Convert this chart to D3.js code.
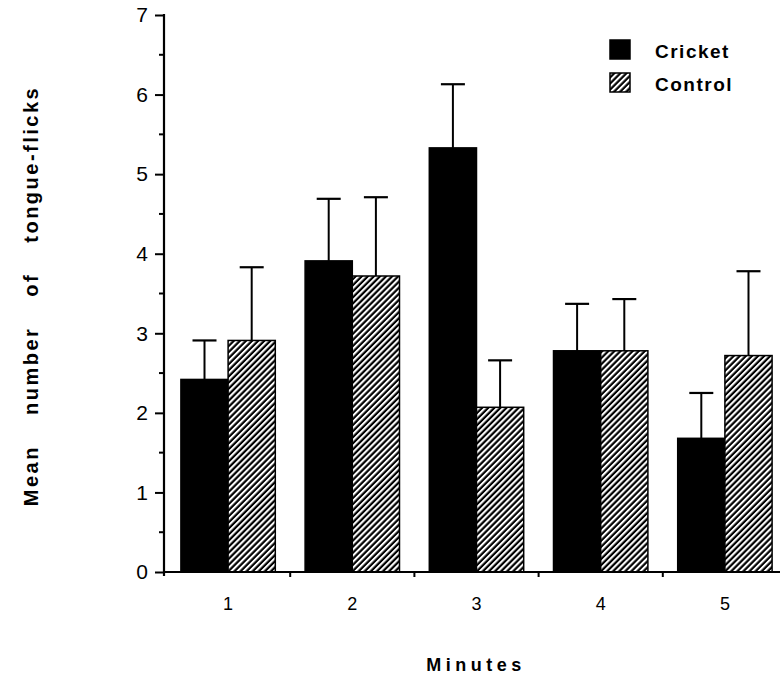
<!DOCTYPE html>
<html>
<head>
<meta charset="utf-8">
<script src="https://cdn.jsdelivr.net/npm/d3@7"></script>
<style>
  body { margin: 0; background: #fff; }
  text { font-family: "Liberation Sans", Arial, sans-serif; fill: #000; }
</style>
</head>
<body>
<svg id="frame" width="780" height="680"></svg>
<script>
// data
const minutes = ["1", "2", "3", "4", "5"];
const series = ["Cricket", "Control"];
const cricketMean = [2.42, 3.91, 5.33, 2.78, 1.68];
const cricketErr  = [0.49, 0.78, 0.80, 0.59, 0.57];
const controlMean = [2.91, 3.72, 2.07, 2.78, 2.72];
const controlErr  = [0.92, 0.99, 0.59, 0.65, 1.06];
const yTicks = [0, 1, 2, 3, 4, 5, 6, 7];
const yMinor = [0.5, 1.5, 2.5, 3.5, 4.5, 5.5, 6.5];

const svg = d3.select("#frame");

// hatch pattern for the control bars
const defs = svg.append("defs");
const pat = defs.append("pattern")
  .attr("id", "hatch")
  .attr("patternUnits", "userSpaceOnUse")
  .attr("width", 4.3).attr("height", 10)
  .attr("patternTransform", "rotate(45)");
pat.append("rect").attr("width", 4.3).attr("height", 10).attr("fill", "#000");
pat.append("rect").attr("x", 0).attr("width", 2.1).attr("height", 10).attr("fill", "#fff");

const x0 = 166, xEnd = 780, yBase = 572, yTop = 15;

const x = d3.scaleBand()
  .domain(minutes)
  .range([x0, 787])
  .paddingInner(0.24)
  .paddingOuter(0.12);

const x1 = d3.scaleBand()
  .domain(series)
  .range([0, x.bandwidth()]);

const y = d3.scaleLinear().domain([0, 7]).range([yBase, yTop]);

const rows = minutes.map((m, i) => ({
  minute: m,
  vals: [
    { key: "Cricket", mean: cricketMean[i], err: cricketErr[i] },
    { key: "Control", mean: controlMean[i], err: controlErr[i] }
  ]
}));

// bars
const groups = svg.append("g").selectAll("g")
  .data(rows)
  .join("g")
  .attr("transform", d => `translate(${x(d.minute)},0)`);

groups.selectAll("rect")
  .data(d => d.vals)
  .join("rect")
  .attr("x", d => x1(d.key))
  .attr("y", d => y(d.mean))
  .attr("width", x1.bandwidth())
  .attr("height", d => yBase - y(d.mean))
  .attr("fill", d => d.key === "Cricket" ? "#000" : "url(#hatch)")
  .attr("stroke", "#000")
  .attr("stroke-width", 1.5);

// error bars (upper only)
const eb = groups.selectAll("g.err")
  .data(d => d.vals)
  .join("g").attr("class", "err");
eb.append("line")
  .attr("x1", d => x1(d.key) + x1.bandwidth() / 2)
  .attr("x2", d => x1(d.key) + x1.bandwidth() / 2)
  .attr("y1", d => y(d.mean))
  .attr("y2", d => y(d.mean + d.err))
  .attr("stroke", "#000").attr("stroke-width", 2);
eb.append("line")
  .attr("x1", d => x1(d.key) + x1.bandwidth() / 2 - 12)
  .attr("x2", d => x1(d.key) + x1.bandwidth() / 2 + 12)
  .attr("y1", d => y(d.mean + d.err))
  .attr("y2", d => y(d.mean + d.err))
  .attr("stroke", "#000").attr("stroke-width", 2.2);

// y axis
const yAxis = svg.append("g").attr("transform", `translate(${x0 - 2},0)`);
yAxis.call(d3.axisLeft(y).tickValues(yTicks).tickSize(9).tickPadding(7).tickFormat(d3.format("d")));
yAxis.select(".domain").remove();
yAxis.selectAll(".tick line").attr("stroke-width", 2);
yAxis.selectAll(".tick text").style("font-size", "21px");
yAxis.append("line")
  .attr("x1", 0).attr("x2", 0)
  .attr("y1", y(7) - 1).attr("y2", yBase + 4)
  .attr("stroke", "#000").attr("stroke-width", 2.2);
yAxis.selectAll("line.minor")
  .data(yMinor)
  .join("line").attr("class", "minor")
  .attr("x1", -5).attr("x2", 0)
  .attr("y1", d => y(d)).attr("y2", d => y(d))
  .attr("stroke", "#000").attr("stroke-width", 2);

// x axis
const xAxis = svg.append("g").attr("transform", `translate(0,${yBase})`);
xAxis.call(d3.axisBottom(x).tickSize(0).tickPadding(25));
xAxis.select(".domain").remove();
xAxis.selectAll(".tick text").style("font-size", "18px");
xAxis.append("line")
  .attr("x1", x0 - 3).attr("x2", xEnd)
  .attr("y1", 0).attr("y2", 0)
  .attr("stroke", "#000").attr("stroke-width", 2);
const seps = minutes.slice(1).map(m => x(m) - x.step() * x.paddingInner() / 2);
xAxis.selectAll("line.sep")
  .data(seps)
  .join("line").attr("class", "sep")
  .attr("x1", d => d).attr("x2", d => d)
  .attr("y1", 0).attr("y2", 5)
  .attr("stroke", "#000").attr("stroke-width", 2);

// axis titles
svg.append("text")
  .attr("x", 476).attr("y", 671)
  .attr("text-anchor", "middle")
  .style("font-size", "18px").style("font-weight", "bold")
  .style("letter-spacing", "4.5px")
  .text("Minutes");

svg.append("text")
  .attr("transform", "translate(38,296) rotate(-90)")
  .attr("text-anchor", "middle")
  .style("font-size", "20px").style("font-weight", "bold")
  .style("letter-spacing", "2.5px").style("word-spacing", "22px")
  .text("Mean number of tongue-flicks");

// legend
const legend = svg.append("g").attr("transform", "translate(610,40)");
const li = legend.selectAll("g")
  .data(series)
  .join("g")
  .attr("transform", (d, i) => `translate(0,${i * 33})`);
li.append("rect")
  .attr("width", 20).attr("height", 19)
  .attr("fill", d => d === "Cricket" ? "#000" : "url(#hatch)")
  .attr("stroke", "#000").attr("stroke-width", 1.5);
li.append("text")
  .attr("x", 45).attr("y", 18)
  .style("font-size", "19px").style("font-weight", "bold")
  .style("letter-spacing", "1.5px")
  .text(d => d);
</script>
</body>
</html>
